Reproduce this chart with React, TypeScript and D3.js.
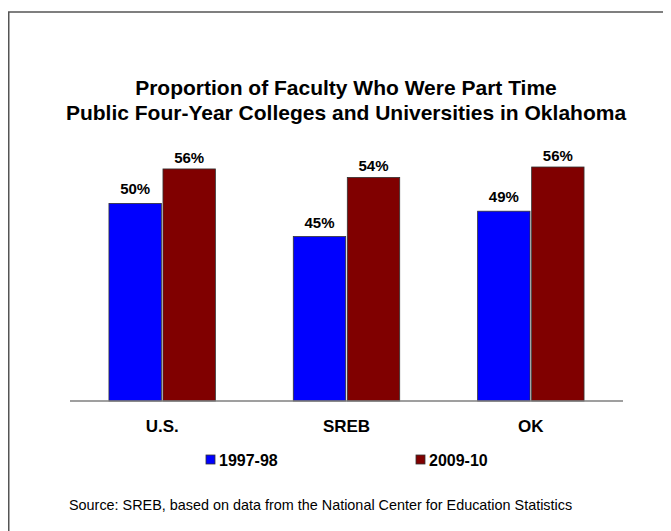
import React from "react";
import * as d3 from "d3";

const categories = ["U.S.", "SREB", "OK"];
const seriesNames = ["1997-98", "2009-10"];
const values1997 = [50.4, 45.3, 49.2];
const values2009 = [55.7, 54.4, 56.0];
const labels1997 = ["50%", "45%", "49%"];
const labels2009 = ["56%", "54%", "56%"];
const seriesColors = ["#0000FF", "#800000"];
const titleLines = [
  "Proportion of Faculty Who Were Part Time",
  "Public Four-Year Colleges and Universities in Oklahoma",
];
const sourceText =
  "Source: SREB, based on data from the National Center for Education Statistics";

const W = 663;
const H = 523;
const FONT = "'Liberation Sans', Arial, Helvetica, sans-serif";

export default function App() {
  const plotLeft = 62;
  const plotRight = 615;
  const baseY = 393;
  const topY = 133;

  const x0 = d3
    .scaleBand<string>()
    .domain(categories)
    .range([plotLeft, plotRight])
    .paddingInner(0.4227)
    .paddingOuter(0.21135);
  const x1 = d3
    .scaleBand<string>()
    .domain(seriesNames)
    .range([0, x0.bandwidth()])
    .paddingInner(0.03);
  const y = d3.scaleLinear().domain([20, 60]).range([baseY, topY]);

  const series = [
    { name: seriesNames[0], values: values1997, labels: labels1997, color: seriesColors[0], off: 9 },
    { name: seriesNames[1], values: values2009, labels: labels2009, color: seriesColors[1], off: 6 },
  ];

  const legendX = [198, 408];

  return (
    <svg width={W} height={H} style={{ display: "block", background: "#fff" }}>
      <rect x={0.75} y={4} width={900} height={900} fill="none" stroke="#555" strokeWidth={1.5} />
      {titleLines.map((t, i) => (
        <text
          key={i}
          x={338}
          y={87 + i * 25}
          textAnchor="middle"
          fontFamily={FONT}
          fontWeight="bold"
          fontSize={21}
          fill="#000"
        >
          {t}
        </text>
      ))}
      {series.map((s) =>
        categories.map((c, i) => {
          const bx = (x0(c) as number) + (x1(s.name) as number);
          const by = y(s.values[i]);
          return (
            <g key={s.name + c}>
              <rect
                x={bx}
                y={by}
                width={x1.bandwidth()}
                height={baseY - by}
                fill={s.color}
                stroke="#333"
                strokeWidth={0.8}
              />
              <text
                x={bx + x1.bandwidth() / 2}
                y={by - s.off}
                textAnchor="middle"
                fontFamily={FONT}
                fontWeight="bold"
                fontSize={15}
                fill="#000"
              >
                {s.labels[i]}
              </text>
            </g>
          );
        })
      )}
      <line x1={plotLeft} x2={plotRight} y1={baseY} y2={baseY} stroke="#7f7f7f" strokeWidth={1.5} />
      {categories.map((c) => (
        <text
          key={c}
          x={(x0(c) as number) + x0.bandwidth() / 2}
          y={424}
          textAnchor="middle"
          fontFamily={FONT}
          fontWeight="bold"
          fontSize={17}
          fill="#000"
        >
          {c}
        </text>
      ))}
      {series.map((s, i) => (
        <g key={"leg" + s.name}>
          <rect x={legendX[i]} y={447} width={9} height={9} fill={s.color} stroke="#333" strokeWidth={0.8} />
          <text x={legendX[i] + 13} y={458} fontFamily={FONT} fontWeight="bold" fontSize={16} fill="#000">
            {s.name}
          </text>
        </g>
      ))}
      <text x={61} y={502} fontFamily={FONT} fontSize={14.4} fill="#000">
        {sourceText}
      </text>
    </svg>
  );
}
